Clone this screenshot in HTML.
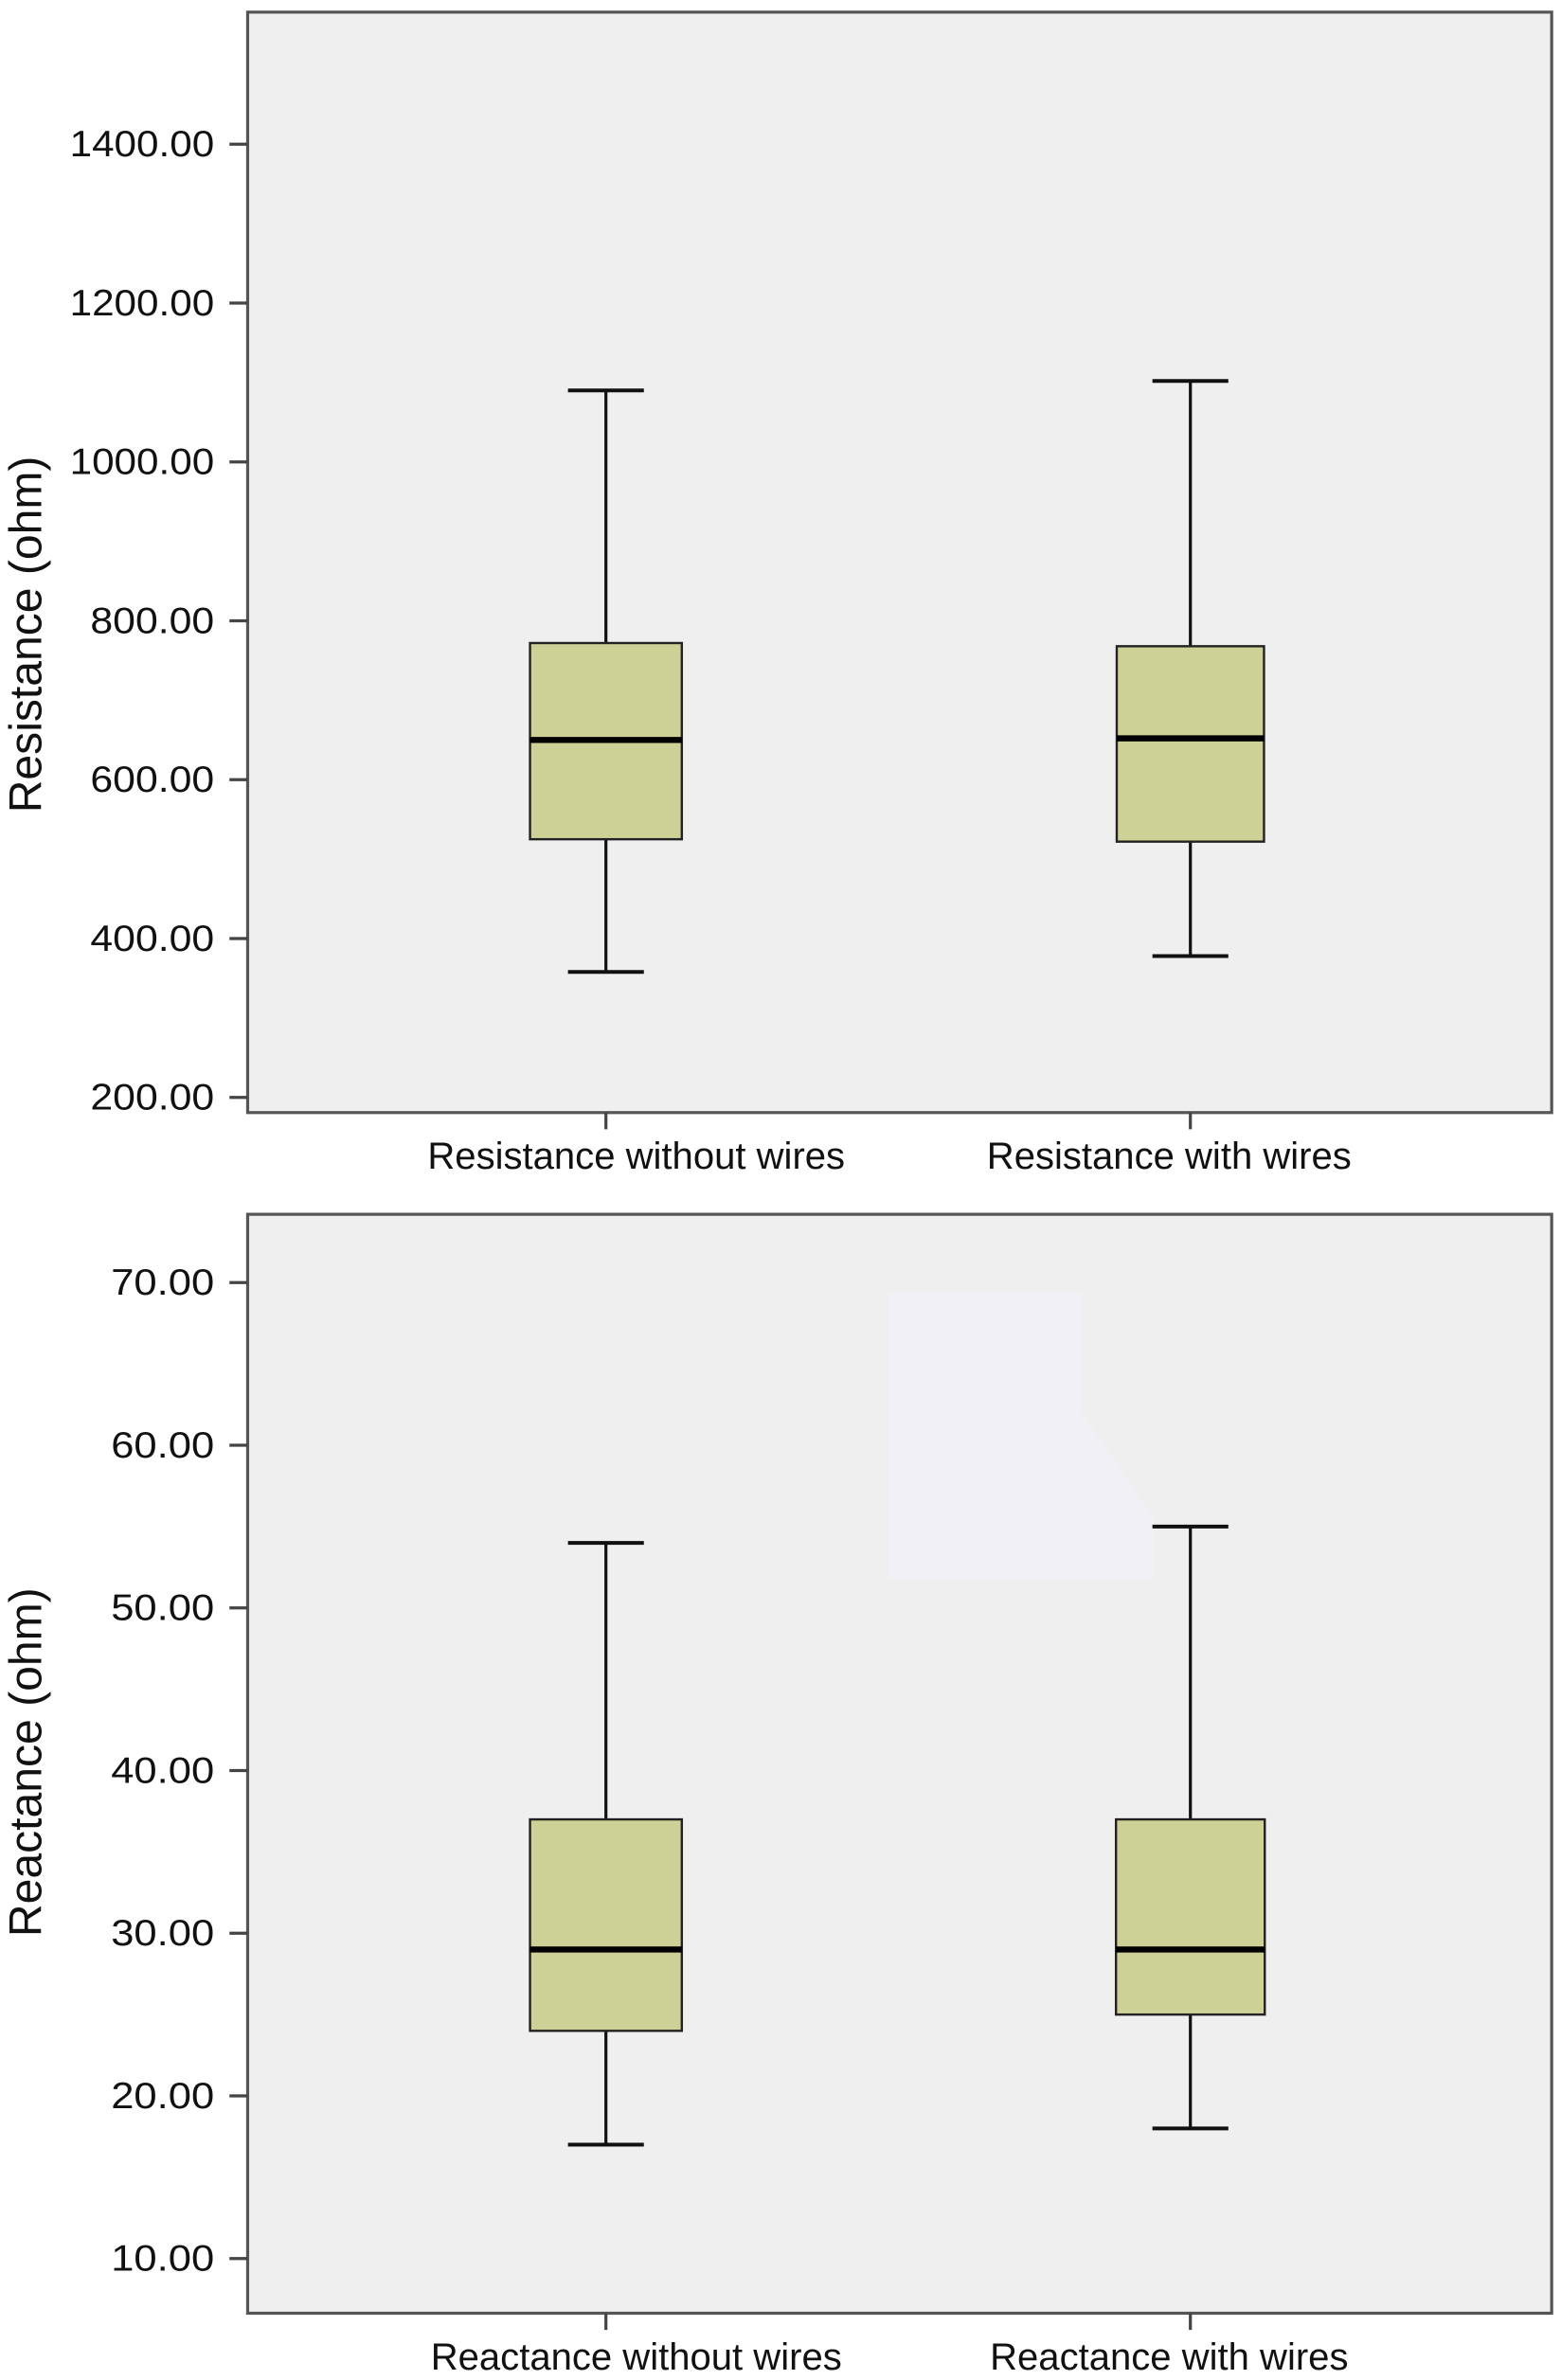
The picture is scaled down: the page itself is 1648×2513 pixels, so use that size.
<!DOCTYPE html>
<html><head><meta charset="utf-8"><style>
html,body{margin:0;padding:0;background:#fff;}
svg{display:block;}
text{font-family:"Liberation Sans",sans-serif;fill:#111;}
</style></head><body>
<svg id="chart" width="1648" height="2513" viewBox="0 0 1028 1568" xmlns="http://www.w3.org/2000/svg"></svg>
<script>
const resCategories = ["Resistance without wires","Resistance with wires"];
const resMax = [1090, 1102];
const resQ3 = [772, 768];
const resMedian = [650, 652];
const resQ1 = [525, 522];
const resMin = [358, 378];
const resTicks = [200,400,600,800,1000,1200,1400];
const resTickLabels = ["200.00","400.00","600.00","800.00","1000.00","1200.00","1400.00"];

const reaCategories = ["Reactance without wires","Reactance with wires"];
const reaMax = [54, 55];
const reaQ3 = [37, 37];
const reaMedian = [29, 29];
const reaQ1 = [24, 25];
const reaMin = [17, 18];
const reaTicks = [10,20,30,40,50,60,70];
const reaTickLabels = ["10.00","20.00","30.00","40.00","50.00","60.00","70.00"];

const NS="http://www.w3.org/2000/svg";
const svg=document.getElementById('chart');
function mk(tag,attrs,parent){const e=document.createElementNS(NS,tag);for(const k in attrs)e.setAttribute(k,attrs[k]);(parent||svg).appendChild(e);return e;}

function panel(cfg){
  const g=mk('g',{});
  
  
  const y=v=>cfg.y0+(v-cfg.v0)*(cfg.y1-cfg.y0)/(cfg.v1-cfg.v0);
  const xs=[399,784];
  const labelShift=[20,-14];
  const bg=mk('rect',{x:163,y:cfg.top,width:859,height:cfg.bottom-cfg.top,fill:'#efefef',stroke:'#555','stroke-width':2},g);
  
  
  if(cfg.patch){
    const p=mk('path',{d:'M585 852 L712 852 L712 930 L760 1000 L760 1040 L585 1040 Z',fill:'#f1f1f5'},g);
    
    
  }
  cfg.ticks.forEach((t,i)=>{
    const yy=y(t);
    const tk=mk('line',{x1:151,x2:163,y1:yy,y2:yy,stroke:'#444','stroke-width':2},g);
    
    
    const tl=mk('text',{x:141,y:yy+8,'text-anchor':'end','font-size':24,textLength:cfg.tickLabels[i].length*13.6,lengthAdjust:'spacingAndGlyphs'},g);
    tl.textContent=cfg.tickLabels[i];
    
    
  });
  const at=mk('text',{x:0,y:0,'text-anchor':'middle','font-size':30,transform:`translate(27 ${cfg.titleY}) rotate(-90)`},g);
  at.textContent=cfg.title;
  
  
  cfg.cats.forEach((c,i)=>{
    const cx=xs[i], w=cfg.widths[i];
    const xt=mk('line',{x1:cx,x2:cx,y1:cfg.bottom,y2:cfg.bottom+11,stroke:'#444','stroke-width':2},g);
    
    
    const xl=mk('text',{x:cx+labelShift[i],y:cfg.bottom+37,'text-anchor':'middle','font-size':25},g);
    xl.textContent=c;
    
    
    const wh=mk('line',{x1:cx,x2:cx,y1:y(cfg.max[i]),y2:y(cfg.min[i]),stroke:'#111','stroke-width':2},g);
    
    
    [cfg.max[i],cfg.min[i]].forEach(v=>{
      const cap=mk('line',{x1:cx-25,x2:cx+25,y1:y(v),y2:y(v),stroke:'#111','stroke-width':2.5},g);
      
      
    });
    const b=mk('rect',{x:cx-w/2,y:y(cfg.q3[i]),width:w,height:y(cfg.q1[i])-y(cfg.q3[i]),fill:'#cdd196',stroke:'#222','stroke-width':1.5},g);
    
    
    const m=mk('line',{x1:cx-w/2,x2:cx+w/2,y1:y(cfg.median[i]),y2:y(cfg.median[i]),stroke:'#000','stroke-width':4},g);
    
    
  });
}

panel({name:'resistance-panel',top:8,bottom:733,v0:200,v1:1400,y0:723,y1:95,ticks:resTicks,tickLabels:resTickLabels,
  title:'Resistance (ohm)',titleY:418,cats:resCategories,max:resMax,q3:resQ3,median:resMedian,q1:resQ1,min:resMin,widths:[100,97]});
panel({name:'reactance-panel',top:800,bottom:1524,v0:10,v1:70,y0:1488,y1:845,ticks:reaTicks,tickLabels:reaTickLabels,patch:true,
  title:'Reactance (ohm)',titleY:1161,cats:reaCategories,max:reaMax,q3:reaQ3,median:reaMedian,q1:reaQ1,min:reaMin,widths:[100,98]});
</script>
</body></html>
